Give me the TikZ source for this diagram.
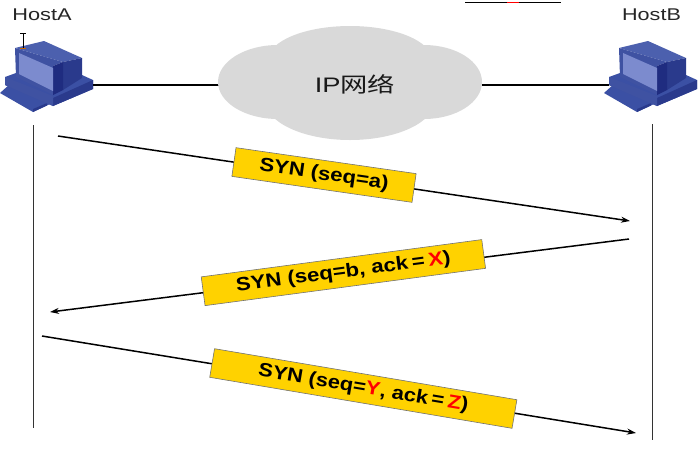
\documentclass[tikz,border=0pt]{standalone}
\usepackage{graphicx}
\usepackage{fontspec}
\setmainfont{Liberation Sans}
\newfontfamily\cjkfont{Noto Sans CJK SC}
\usetikzlibrary{arrows.meta}
\definecolor{pcfront}{HTML}{3F52A2}
\definecolor{pcscreen}{HTML}{7C8BCE}
\definecolor{pctop}{HTML}{4C60AE}
\definecolor{pcside}{HTML}{2A3A8C}
\definecolor{pcdark}{HTML}{1F2C80}
\definecolor{pcbase}{HTML}{3B50A4}
\definecolor{synfill}{HTML}{FFD200}
\definecolor{cloudgray}{HTML}{D9D9D9}
\tikzset{
  x=1pt,y=-1pt,
  wire/.style={draw=black,line width=1.2pt},
  lifeline/.style={draw=black!80,line width=1pt},
  msg/.style={draw=black,line width=1.5pt,-{Stealth[length=9pt,width=6pt]}},
  synbox/.style={draw=black!55,line width=.6pt,fill=synfill,minimum height=29pt,inner sep=0pt,font=\fontsize{19}{21}\selectfont\bfseries,text=black},
  hostlabel/.style={font=\fontsize{17}{19}\selectfont,text=black!85,inner sep=0pt},
  pics/computer/.style={code={
    \fill[pcbase] (0,93)--(10,84)--(50,104)--(33,112)--cycle;
    \fill[pcside] (33,112)--(47,105.5)--(47,103)--(33,109)--cycle;
    \fill[pcbase] (5,77)--(16,73)--(82,75)--(93,80)--(93,89)--(53,106)--(5,85)--cycle;
    \fill[pcside] (53,98)--(93,80)--(93,89)--(53,106)--cycle;
    \fill[pcfront] (5,77)--(53,96)--(53,106)--(5,85)--cycle;
    \fill[pctop] (15,48)--(44,41)--(82,58)--(63,62)--cycle;
    \fill[pcside] (63,62)--(82,58)--(82,78)--(63,90)--cycle;
    \fill[pcfront] (15,48)--(63,62)--(53,66)--(53,95)--(16,77)--cycle;
    \fill[pcdark] (53,66)--(63,62)--(63,90)--(53,95)--cycle;
    \fill[pcscreen] (19,53)--(53,68)--(53,91)--(19,74)--cycle;
    \coordinate (-port) at (93,85);
    \coordinate (-left) at (5,85);
    \coordinate (-foot) at (33,112);
  }}
}
\begin{document}
\begin{tikzpicture}
\useasboundingbox (0,0) rectangle (700,448);
% truncated rule at the top edge
\draw[black,line width=1pt] (465,2.3) -- (507,2.3);
\draw[red,line width=1pt] (507,2.3) -- (519,2.3);
\draw[black,line width=1pt] (519,2.3) -- (561,2.3);

\coordinate (cloudW) at (219,85);
\coordinate (cloudE) at (482,85);
\pic (hostA) at (0,0) {computer};
\pic (hostB) at (604,0) {computer};
\draw[wire] (hostA-port) -- (cloudW);
\draw[wire] (cloudE) -- (hostB-left);

% cloud
\fill[cloudgray] (350,60) ellipse [x radius=82,y radius=34];
\fill[cloudgray] (350,100) ellipse [x radius=85,y radius=40];
\fill[cloudgray] (278,82) ellipse [x radius=60,y radius=37];
\fill[cloudgray] (424,82) ellipse [x radius=58,y radius=37];
\node[inner sep=0pt,text=black!90] (cloudtext) at (355,84)
  {\scalebox{1.3}[1]{\fontsize{21}{24}\selectfont IP{\cjkfont 网络}}};

\node[hostlabel] (labelA) at (42,15) {\scalebox{1.28}[1]{HostA}};
\node[hostlabel] (labelB) at (651.5,15) {\scalebox{1.27}[1]{HostB}};

% text cursor
\draw[black,line width=.8pt] (20,33.5)--(26,33.5) (23,33.5)--(23,48);
\draw[orange!80!black,line width=.9pt] (20,48.5)--(26,48.5);

% lifelines
\coordinate (lifeAtop) at (33,125);
\coordinate (lifeAend) at (33,428);
\coordinate (lifeBtop) at (652,124);
\coordinate (lifeBend) at (652,440);
\draw[lifeline] (lifeAtop) -- (lifeAend);
\draw[lifeline] (lifeBtop) -- (lifeBend);

% messages
\coordinate (m1s) at (58,136);
\coordinate (m1e) at (630,221);
\coordinate (m2s) at (629,239);
\coordinate (m2e) at (50,312);
\coordinate (m3s) at (42,336);
\coordinate (m3e) at (636,433);
\draw[msg] (m1s) -- (m1e);
\draw[msg] (m2s) -- (m2e);
\draw[msg] (m3s) -- (m3e);

\node[synbox,minimum width=182pt,rotate=-8.2] (syn1) at (324,175)
  {\scalebox{1.17}[1]{SYN (seq=a)}};
\node[synbox,minimum width=283pt,rotate=7.57] (syn2) at (343.4,272.6)
  {\scalebox{1.17}[1]{SYN (seq=b, ack\,=\,\textcolor{red}{X})}};
\node[synbox,minimum width=306.6pt,rotate=-9.58] (syn3) at (363.3,388.5)
  {\scalebox{1.15}[1]{SYN (seq=\textcolor{red}{Y}, ack\,=\,\textcolor{red}{Z})}};
\end{tikzpicture}
\end{document}
